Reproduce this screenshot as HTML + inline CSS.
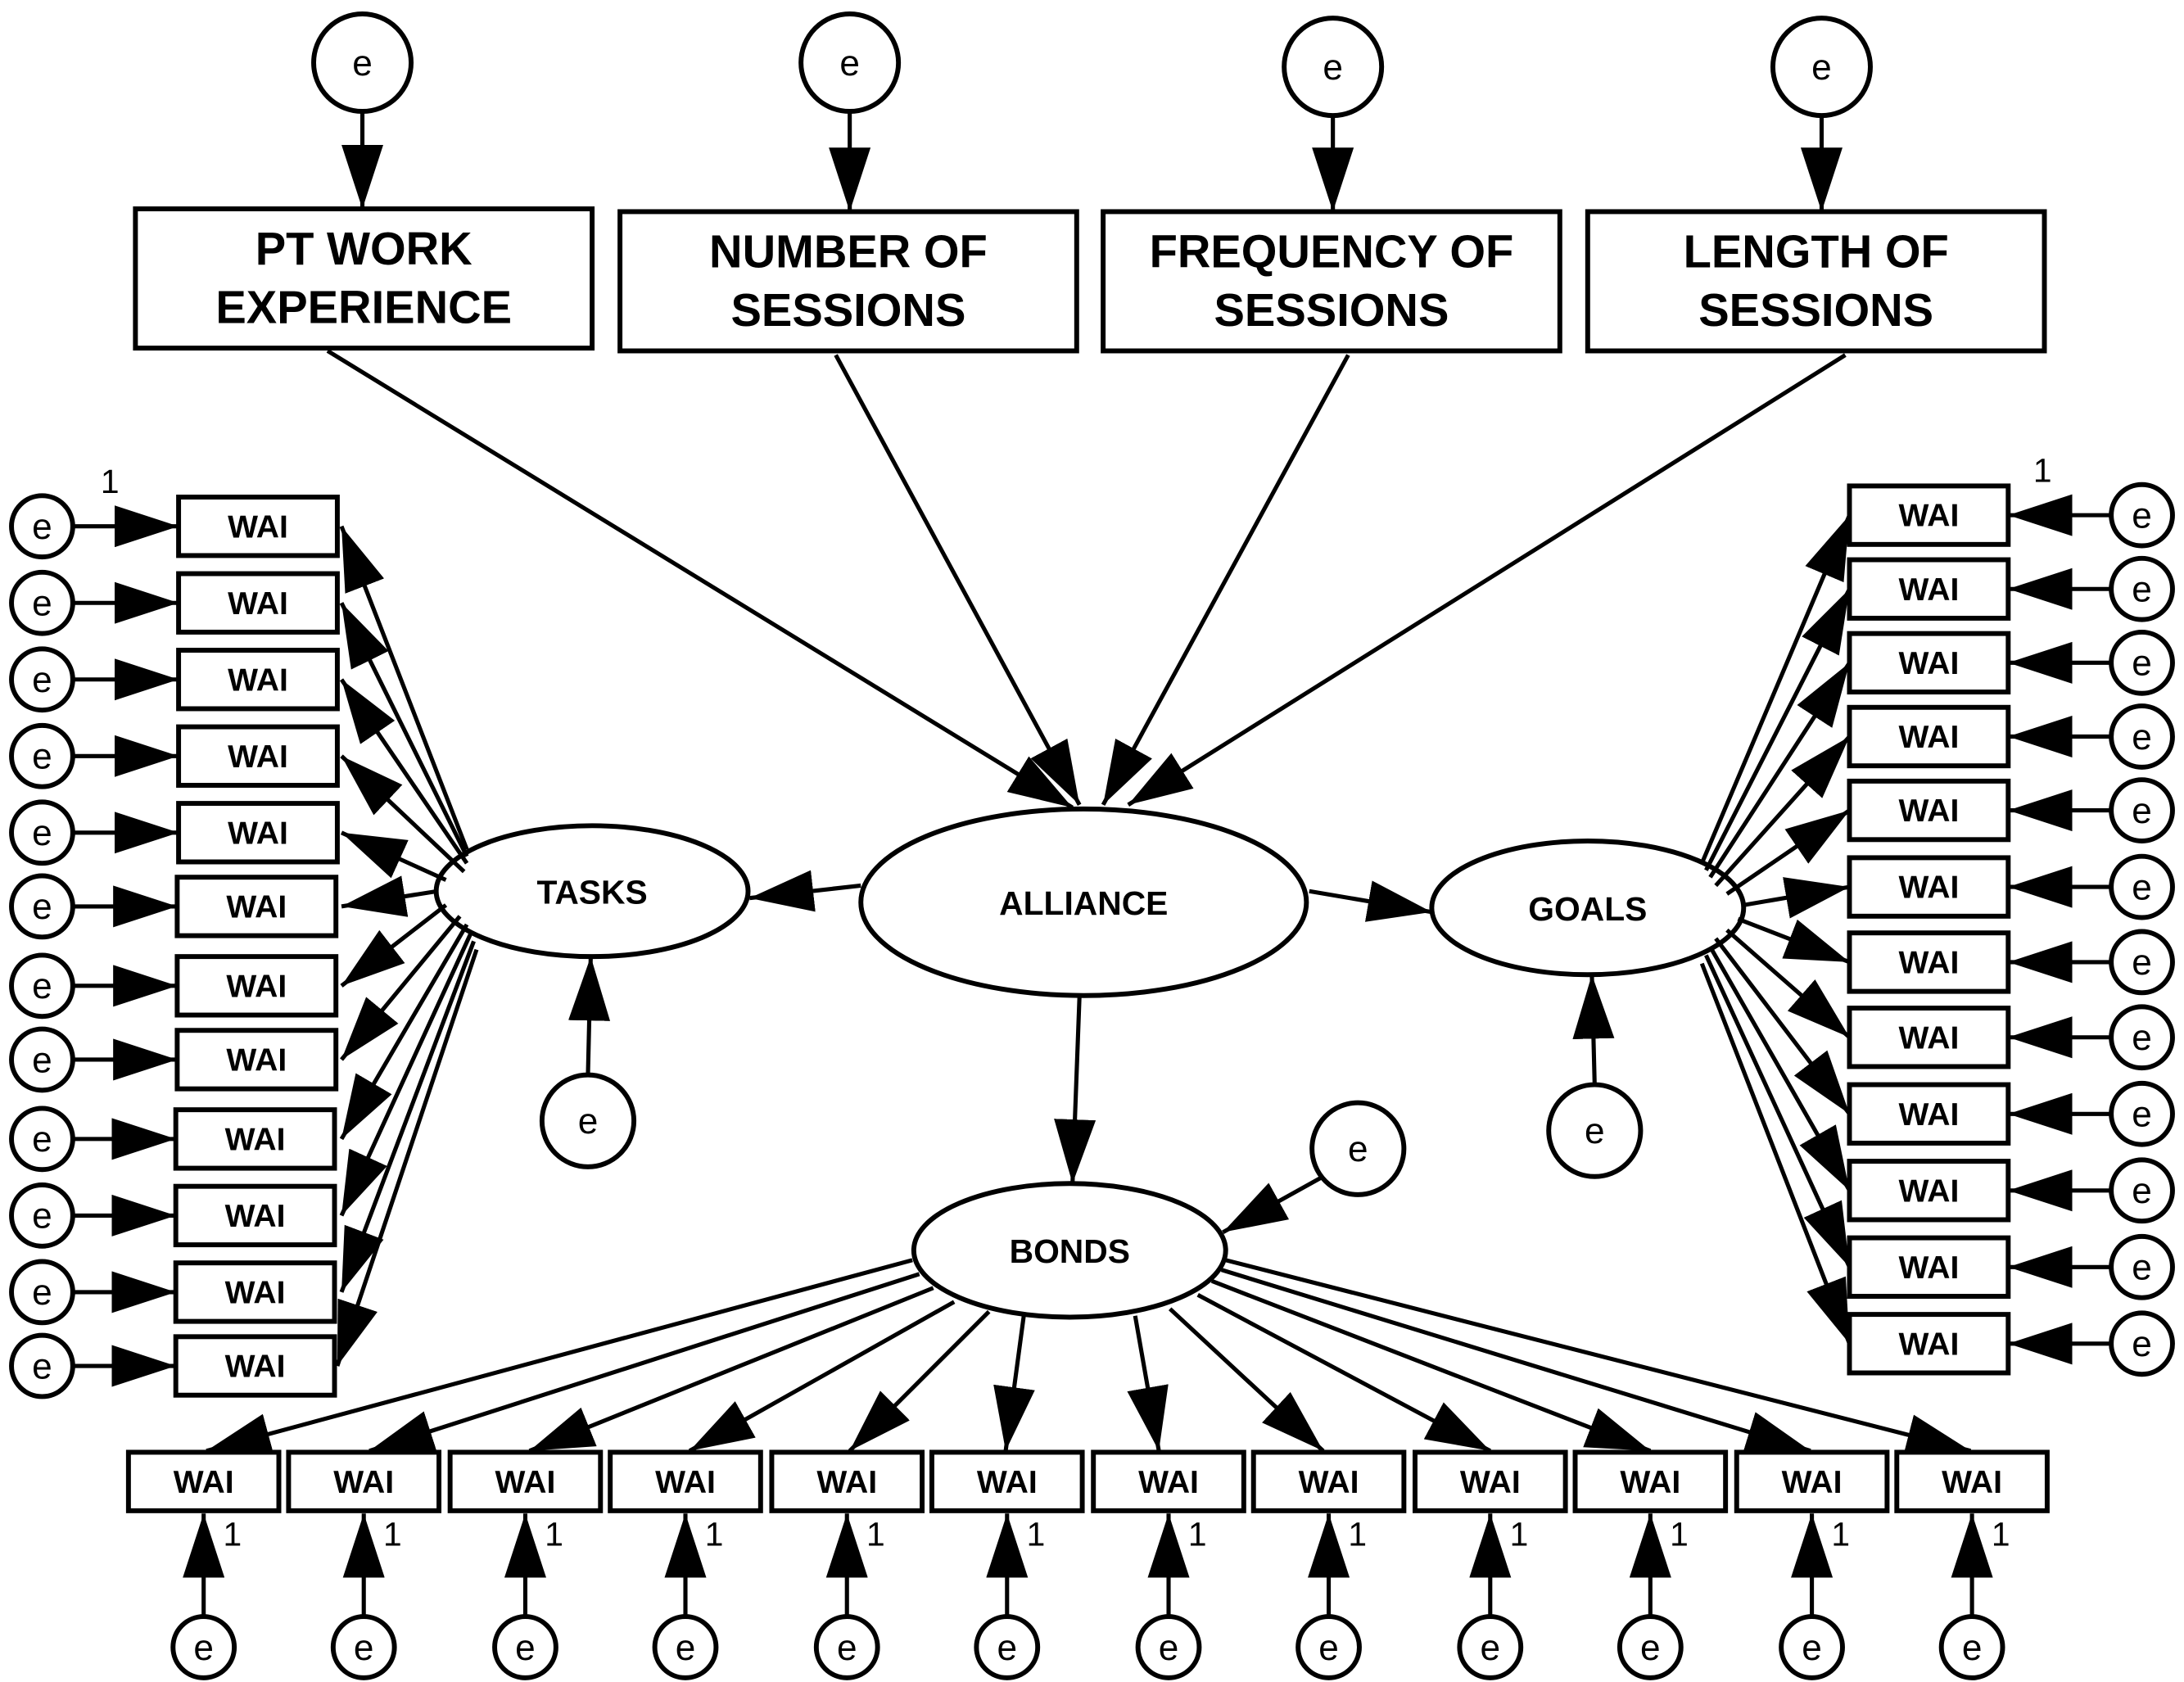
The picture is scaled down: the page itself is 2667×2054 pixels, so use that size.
<!DOCTYPE html>
<html><head><meta charset="utf-8"><style>
html,body{margin:0;padding:0;background:#fff}
svg{display:block}
text{font-family:"Liberation Sans",Arial,sans-serif;fill:#000}
.b{font-weight:bold}
</style></head><body>
<svg width="2667" height="2054" viewBox="0 0 1568 1208" xmlns="http://www.w3.org/2000/svg">
<defs>
<marker id="a" viewBox="0 0 46 30" markerWidth="46" markerHeight="30" refX="46" refY="15" orient="auto" markerUnits="userSpaceOnUse"><path d="M0,0 L46,15 L0,30 z" fill="#000"/></marker>
</defs>
<g fill="#fff" stroke="#000" stroke-width="3.5">
<!-- top e -->
<circle cx="260" cy="45" r="35"/><circle cx="610" cy="45" r="35"/><circle cx="957" cy="48" r="35"/><circle cx="1308" cy="48" r="35"/>
<rect x="97" y="150" width="328" height="100"/><rect x="445" y="152" width="328" height="100"/><rect x="792" y="152" width="328" height="100"/><rect x="1140" y="152" width="328" height="100"/>
<ellipse cx="778" cy="648" rx="160" ry="67"/>
<ellipse cx="425" cy="640" rx="112" ry="47"/>
<ellipse cx="1140" cy="652" rx="112" ry="48"/>
<ellipse cx="768" cy="898" rx="112" ry="48"/>
<circle cx="422" cy="805" r="33"/><circle cx="1145" cy="812" r="33"/><circle cx="975" cy="825" r="33"/>
</g>
<g stroke="#000" stroke-width="3" fill="none" marker-end="url(#a)">
<line x1="260" y1="80" x2="260" y2="150"/><line x1="610" y1="80" x2="610" y2="152"/><line x1="957" y1="83" x2="957" y2="152"/><line x1="1308" y1="83" x2="1308" y2="152"/>
<line x1="235" y1="252" x2="770" y2="580"/><line x1="600" y1="255" x2="775" y2="578"/><line x1="968" y1="255" x2="792" y2="578"/><line x1="1325" y1="255" x2="810" y2="578"/>
<line x1="618" y1="636" x2="538" y2="645"/><line x1="940" y1="640" x2="1028" y2="655"/><line x1="775" y1="716" x2="770" y2="850"/>
<line x1="422" y1="772" x2="424" y2="687"/><line x1="1145" y1="779" x2="1143" y2="700"/><line x1="950" y1="845" x2="878" y2="885"/>
<!-- tasks -->
<line x1="335" y1="610" x2="245" y2="378"/><line x1="335" y1="615" x2="245" y2="433"/><line x1="335" y1="620" x2="245" y2="488"/><line x1="333" y1="626" x2="245" y2="543"/><line x1="320" y1="632" x2="245" y2="598"/><line x1="314" y1="640" x2="245" y2="651"/><line x1="320" y1="650" x2="245" y2="708"/><line x1="330" y1="658" x2="245" y2="761"/><line x1="335" y1="664" x2="245" y2="818"/><line x1="338" y1="670" x2="245" y2="873"/><line x1="340" y1="676" x2="245" y2="928"/><line x1="342" y1="682" x2="242" y2="981"/>
<!-- goals -->
<line x1="1222" y1="620" x2="1328" y2="370"/><line x1="1225" y1="625" x2="1328" y2="423"/><line x1="1228" y1="630" x2="1328" y2="476"/><line x1="1232" y1="636" x2="1328" y2="529"/><line x1="1240" y1="642" x2="1328" y2="582"/><line x1="1252" y1="650" x2="1328" y2="637"/><line x1="1248" y1="660" x2="1328" y2="691"/><line x1="1240" y1="668" x2="1328" y2="745"/><line x1="1232" y1="674" x2="1328" y2="800"/><line x1="1228" y1="680" x2="1328" y2="855"/><line x1="1225" y1="686" x2="1328" y2="910"/><line x1="1222" y1="692" x2="1328" y2="965"/>
<!-- bonds -->
<line x1="655" y1="905" x2="148" y2="1042"/><line x1="660" y1="915" x2="265" y2="1042"/><line x1="670" y1="925" x2="380" y2="1042"/><line x1="685" y1="935" x2="495" y2="1042"/><line x1="710" y1="942" x2="610" y2="1042"/><line x1="735" y1="945" x2="722" y2="1042"/><line x1="815" y1="945" x2="832" y2="1042"/><line x1="840" y1="940" x2="950" y2="1042"/><line x1="860" y1="930" x2="1070" y2="1042"/><line x1="870" y1="920" x2="1185" y2="1042"/><line x1="877" y1="912" x2="1300" y2="1042"/><line x1="880" y1="905" x2="1415" y2="1042"/>
<!-- left e -->
<line x1="52" y1="378" x2="128" y2="378"/><line x1="52" y1="433" x2="128" y2="433"/><line x1="52" y1="488" x2="128" y2="488"/><line x1="52" y1="543" x2="128" y2="543"/><line x1="52" y1="598" x2="128" y2="598"/><line x1="52" y1="651" x2="127" y2="651"/><line x1="52" y1="708" x2="127" y2="708"/><line x1="52" y1="761" x2="127" y2="761"/><line x1="52" y1="818" x2="126" y2="818"/><line x1="52" y1="873" x2="126" y2="873"/><line x1="52" y1="928" x2="126" y2="928"/><line x1="52" y1="981" x2="126" y2="981"/>
<!-- right e -->
<line x1="1516" y1="370" x2="1442" y2="370"/><line x1="1516" y1="423" x2="1442" y2="423"/><line x1="1516" y1="476" x2="1442" y2="476"/><line x1="1516" y1="529" x2="1442" y2="529"/><line x1="1516" y1="582" x2="1442" y2="582"/><line x1="1516" y1="637" x2="1442" y2="637"/><line x1="1516" y1="691" x2="1442" y2="691"/><line x1="1516" y1="745" x2="1442" y2="745"/><line x1="1516" y1="800" x2="1442" y2="800"/><line x1="1516" y1="855" x2="1442" y2="855"/><line x1="1516" y1="910" x2="1442" y2="910"/><line x1="1516" y1="965" x2="1442" y2="965"/>
<!-- bottom e -->
<line x1="146" y1="1160" x2="146" y2="1087"/><line x1="261" y1="1160" x2="261" y2="1087"/><line x1="377" y1="1160" x2="377" y2="1087"/><line x1="492" y1="1160" x2="492" y2="1087"/><line x1="608" y1="1160" x2="608" y2="1087"/><line x1="723" y1="1160" x2="723" y2="1087"/><line x1="839" y1="1160" x2="839" y2="1087"/><line x1="954" y1="1160" x2="954" y2="1087"/><line x1="1070" y1="1160" x2="1070" y2="1087"/><line x1="1185" y1="1160" x2="1185" y2="1087"/><line x1="1301" y1="1160" x2="1301" y2="1087"/><line x1="1416" y1="1160" x2="1416" y2="1087"/>
</g>
<g fill="#fff" stroke="#000" stroke-width="3.5">
<rect x="128" y="357" width="114" height="42"/><rect x="128" y="412" width="114" height="42"/><rect x="128" y="467" width="114" height="42"/><rect x="128" y="522" width="114" height="42"/><rect x="128" y="577" width="114" height="42"/><rect x="127" y="630" width="114" height="42"/><rect x="127" y="687" width="114" height="42"/><rect x="127" y="740" width="114" height="42"/><rect x="126" y="797" width="114" height="42"/><rect x="126" y="852" width="114" height="42"/><rect x="126" y="907" width="114" height="42"/><rect x="126" y="960" width="114" height="42"/>
<rect x="1328" y="349" width="114" height="42"/><rect x="1328" y="402" width="114" height="42"/><rect x="1328" y="455" width="114" height="42"/><rect x="1328" y="508" width="114" height="42"/><rect x="1328" y="561" width="114" height="42"/><rect x="1328" y="616" width="114" height="42"/><rect x="1328" y="670" width="114" height="42"/><rect x="1328" y="724" width="114" height="42"/><rect x="1328" y="779" width="114" height="42"/><rect x="1328" y="834" width="114" height="42"/><rect x="1328" y="889" width="114" height="42"/><rect x="1328" y="944" width="114" height="42"/>
<rect x="92" y="1043" width="108" height="42"/><rect x="207" y="1043" width="108" height="42"/><rect x="323" y="1043" width="108" height="42"/><rect x="438" y="1043" width="108" height="42"/><rect x="554" y="1043" width="108" height="42"/><rect x="669" y="1043" width="108" height="42"/><rect x="785" y="1043" width="108" height="42"/><rect x="900" y="1043" width="108" height="42"/><rect x="1016" y="1043" width="108" height="42"/><rect x="1131" y="1043" width="108" height="42"/><rect x="1247" y="1043" width="108" height="42"/><rect x="1362" y="1043" width="108" height="42"/>
<circle cx="30" cy="378" r="22"/><circle cx="30" cy="433" r="22"/><circle cx="30" cy="488" r="22"/><circle cx="30" cy="543" r="22"/><circle cx="30" cy="598" r="22"/><circle cx="30" cy="651" r="22"/><circle cx="30" cy="708" r="22"/><circle cx="30" cy="761" r="22"/><circle cx="30" cy="818" r="22"/><circle cx="30" cy="873" r="22"/><circle cx="30" cy="928" r="22"/><circle cx="30" cy="981" r="22"/>
<circle cx="1538" cy="370" r="22"/><circle cx="1538" cy="423" r="22"/><circle cx="1538" cy="476" r="22"/><circle cx="1538" cy="529" r="22"/><circle cx="1538" cy="582" r="22"/><circle cx="1538" cy="637" r="22"/><circle cx="1538" cy="691" r="22"/><circle cx="1538" cy="745" r="22"/><circle cx="1538" cy="800" r="22"/><circle cx="1538" cy="855" r="22"/><circle cx="1538" cy="910" r="22"/><circle cx="1538" cy="965" r="22"/>
<circle cx="146" cy="1183" r="22"/><circle cx="261" cy="1183" r="22"/><circle cx="377" cy="1183" r="22"/><circle cx="492" cy="1183" r="22"/><circle cx="608" cy="1183" r="22"/><circle cx="723" cy="1183" r="22"/><circle cx="839" cy="1183" r="22"/><circle cx="954" cy="1183" r="22"/><circle cx="1070" cy="1183" r="22"/><circle cx="1185" cy="1183" r="22"/><circle cx="1301" cy="1183" r="22"/><circle cx="1416" cy="1183" r="22"/>
</g>
<g class="b" font-size="33" text-anchor="middle">
<text x="261" y="190">PT WORK</text><text x="261" y="232">EXPERIENCE</text>
<text x="609" y="192">NUMBER OF</text><text x="609" y="234">SESSIONS</text>
<text x="956" y="192">FREQUENCY OF</text><text x="956" y="234">SESSIONS</text>
<text x="1304" y="192">LENGTH OF</text><text x="1304" y="234">SESSIONS</text>
</g>
<g class="b" font-size="24" text-anchor="middle">
<text x="778" y="657">ALLIANCE</text><text x="425" y="649">TASKS</text><text x="1140" y="661">GOALS</text><text x="768" y="907">BONDS</text>
</g>
<g class="b" font-size="23" text-anchor="middle">
<text x="185" y="386">WAI</text><text x="185" y="441">WAI</text><text x="185" y="496">WAI</text><text x="185" y="551">WAI</text><text x="185" y="606">WAI</text><text x="184" y="659">WAI</text><text x="184" y="716">WAI</text><text x="184" y="769">WAI</text><text x="183" y="826">WAI</text><text x="183" y="881">WAI</text><text x="183" y="936">WAI</text><text x="183" y="989">WAI</text>
<text x="1385" y="378">WAI</text><text x="1385" y="431">WAI</text><text x="1385" y="484">WAI</text><text x="1385" y="537">WAI</text><text x="1385" y="590">WAI</text><text x="1385" y="645">WAI</text><text x="1385" y="699">WAI</text><text x="1385" y="753">WAI</text><text x="1385" y="808">WAI</text><text x="1385" y="863">WAI</text><text x="1385" y="918">WAI</text><text x="1385" y="973">WAI</text>
<text x="146" y="1072">WAI</text><text x="261" y="1072">WAI</text><text x="377" y="1072">WAI</text><text x="492" y="1072">WAI</text><text x="608" y="1072">WAI</text><text x="723" y="1072">WAI</text><text x="839" y="1072">WAI</text><text x="954" y="1072">WAI</text><text x="1070" y="1072">WAI</text><text x="1185" y="1072">WAI</text><text x="1301" y="1072">WAI</text><text x="1416" y="1072">WAI</text>
</g>
<g font-size="26" text-anchor="middle">
<text x="260" y="54">e</text><text x="610" y="54">e</text><text x="957" y="57">e</text><text x="1308" y="57">e</text>
<text x="422" y="814">e</text><text x="1145" y="821">e</text><text x="975" y="834">e</text>
<text x="30" y="387">e</text><text x="30" y="442">e</text><text x="30" y="497">e</text><text x="30" y="552">e</text><text x="30" y="607">e</text><text x="30" y="660">e</text><text x="30" y="717">e</text><text x="30" y="770">e</text><text x="30" y="827">e</text><text x="30" y="882">e</text><text x="30" y="937">e</text><text x="30" y="990">e</text>
<text x="1538" y="379">e</text><text x="1538" y="432">e</text><text x="1538" y="485">e</text><text x="1538" y="538">e</text><text x="1538" y="591">e</text><text x="1538" y="646">e</text><text x="1538" y="700">e</text><text x="1538" y="754">e</text><text x="1538" y="809">e</text><text x="1538" y="864">e</text><text x="1538" y="919">e</text><text x="1538" y="974">e</text>
<text x="146" y="1192">e</text><text x="261" y="1192">e</text><text x="377" y="1192">e</text><text x="492" y="1192">e</text><text x="608" y="1192">e</text><text x="723" y="1192">e</text><text x="839" y="1192">e</text><text x="954" y="1192">e</text><text x="1070" y="1192">e</text><text x="1185" y="1192">e</text><text x="1301" y="1192">e</text><text x="1416" y="1192">e</text>
</g>
<g font-size="24">
<text x="72" y="354">1</text><text x="1460" y="346">1</text>
<text x="160" y="1110">1</text><text x="275" y="1110">1</text><text x="391" y="1110">1</text><text x="506" y="1110">1</text><text x="622" y="1110">1</text><text x="737" y="1110">1</text><text x="853" y="1110">1</text><text x="968" y="1110">1</text><text x="1084" y="1110">1</text><text x="1199" y="1110">1</text><text x="1315" y="1110">1</text><text x="1430" y="1110">1</text>
</g>
</svg>
</body></html>
